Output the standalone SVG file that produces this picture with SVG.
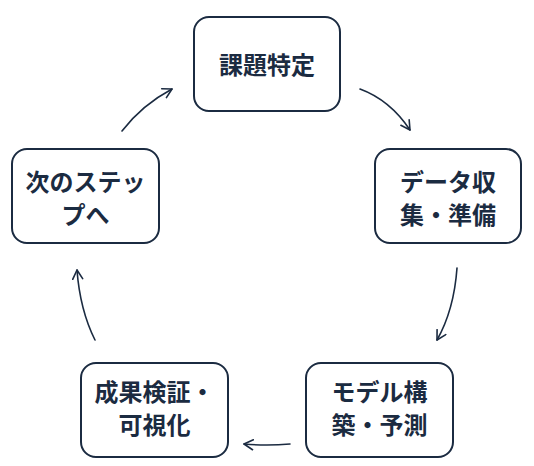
<svg xmlns="http://www.w3.org/2000/svg" width="534" height="466" viewBox="0 0 534 466">
<style>
.box{fill:#ffffff;stroke:#1b2b41;stroke-width:2}
.t{font-family:"Noto Sans CJK JP","Noto Sans",sans-serif;font-weight:700;font-size:24px;fill:#1b2b41;text-anchor:middle;dominant-baseline:central}
.c{fill:none;stroke:#1b2b41;stroke-width:1.6;stroke-linecap:round}
</style>
<defs>
<marker id="ah" viewBox="0 0 12 12" refX="10" refY="6" markerWidth="12" markerHeight="12" markerUnits="userSpaceOnUse" orient="auto">
<path d="M1,1 L10,6 L1,11" fill="none" stroke="#1b2b41" stroke-width="1.6" stroke-linecap="round" stroke-linejoin="round"/>
</marker>
</defs>
<rect width="534" height="466" fill="#ffffff"/>
<g id="connectors">
<path class="c" d="M360,89 Q390,100 410,130" marker-end="url(#ah)"/>
<path class="c" d="M457,268 Q454,310 437,340" marker-end="url(#ah)"/>
<path class="c" d="M290,444 Q267,446 244,444" marker-end="url(#ah)"/>
<path class="c" d="M95,340 Q80,310 77,270" marker-end="url(#ah)"/>
<path class="c" d="M122,131 Q142,105 172,89" marker-end="url(#ah)"/>
</g>
<g id="n1"><rect class="box" x="194" y="17" width="146" height="94" rx="15"/><text class="t" x="267" y="63">課題特定</text></g>
<g id="n2"><rect class="box" x="375" y="149" width="146" height="94" rx="15"/><text class="t" x="448" y="180">データ収</text><text class="t" x="448" y="213">集・準備</text></g>
<g id="n3"><rect class="box" x="306" y="363" width="147" height="94" rx="15"/><text class="t" x="379.5" y="390">モデル構</text><text class="t" x="379.5" y="423">築・予測</text></g>
<g id="n4"><rect class="box" x="81" y="363" width="147" height="94" rx="15"/><text class="t" x="154.5" y="390">成果検証・</text><text class="t" x="154.5" y="423">可視化</text></g>
<g id="n5"><rect class="box" x="12" y="149" width="147" height="94" rx="15"/><text class="t" x="85.5" y="180">次のステッ</text><text class="t" x="85.5" y="213">プへ</text></g>
</svg>
